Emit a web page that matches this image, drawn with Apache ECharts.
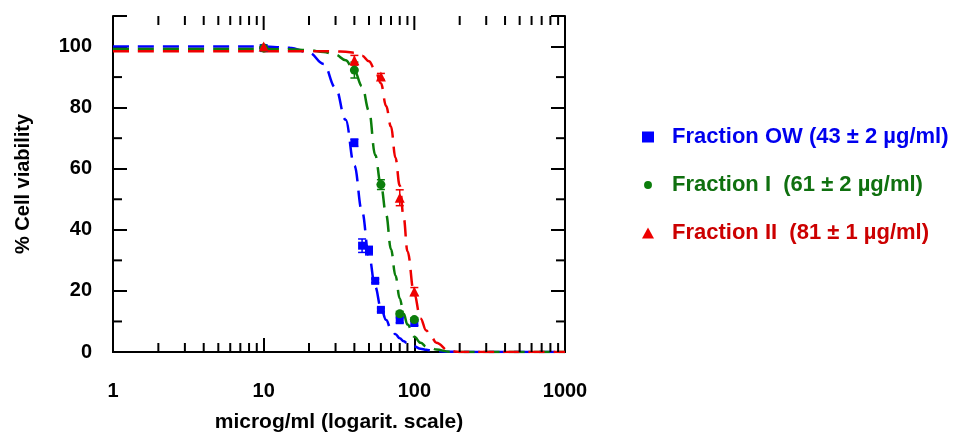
<!DOCTYPE html>
<html>
<head>
<meta charset="utf-8">
<script src="https://cdn.jsdelivr.net/npm/echarts@6/dist/echarts.min.js"></script>
<style>
  html, body { margin: 0; padding: 0; background: #fff; }
  #chart { width: 955px; height: 432px; }
</style>
</head>
<body>
<div id="chart"></div>
<script>
// 数据
var seriesNames = ['Fraction OW (43 ± 2 µg/ml)', 'Fraction I  (61 ± 2 µg/ml)', 'Fraction II  (81 ± 1 µg/ml)'];
var xTickLabels = [1, 10, 100, 1000];
var xMajorTicks = [10, 100];
var xMinorTicks = [2, 3, 4, 5, 6, 7, 8, 9, 20, 30, 40, 50, 60, 70, 80, 90, 200, 300, 400, 500, 600, 700, 800, 900];
var yMinorTicks = [10, 30, 50, 70, 90];

// measured points [conc, viability, error]
var pointsOW = [[10, 99.5, 0], [40, 68.5, 1.2], [45, 34.8, 2.2], [50, 33.2, 1.4], [55, 23.3, 0.6], [60, 13.8, 0.6], [80, 10.4, 0.8], [100, 9.5, 0.8]];
var pointsI = [[10, 99.5, 0], [40, 92.3, 2.6], [60, 54.8, 1.6], [80, 12.5, 0.8], [100, 10.6, 0.6]];
var pointsII = [[10, 100, 0], [40, 95.5, 1.6], [60, 90.2, 1.0], [80, 50.5, 2.6], [100, 19.8, 1.3]];

// fitted curves
var curveX = [1, 5, 10, 15, 20, 25, 30, 35, 40, 45, 50, 55, 60, 65, 70, 75, 80, 85, 90, 100, 110, 120, 130, 140, 170, 200, 300, 1000];
var curveOW = [100, 100, 100, 99.6, 98.0, 94.3, 86.5, 76, 61, 46, 31.5, 21.3, 14.5, 10.5, 7.5, 5.8, 4.5, 3.5, 2.8, 1.8, 1.1, 0.7, 0.5, 0.3, 0.1, 0, 0, 0];
var curveI = [99.2, 99.2, 99.2, 99.1, 98.8, 98.2, 97.3, 95.5, 92, 87, 79, 64.5, 54.7, 45, 33.6, 25, 17.5, 12.5, 9.0, 5.0, 3.0, 1.8, 1.2, 0.8, 0.1, 0, 0, 0];
var curveII = [98.5, 98.5, 98.5, 98.5, 98.5, 98.5, 98.4, 98.3, 98, 97, 95.2, 92.3, 88, 80.5, 73.8, 63.5, 54.5, 44, 33, 18.7, 11, 7, 4.8, 3, 0.3, 0, 0, 0];

var colorsMark = ['#0000ff', '#0b7d0b', '#ee0000'];
var colorsText = ['#0000ee', '#0f700f', '#cc0000'];
var symbols = ['rect', 'circle', 'triangle'];
var symbolSizes = [8, 9, 10];
// legend icons
var circleIcon = 'image://data:image/svg+xml;utf8,' + encodeURIComponent(
  '<svg xmlns="http://www.w3.org/2000/svg" width="12" height="12" viewBox="0 0 12 12"><circle cx="6" cy="6" r="4.3" fill="#0b7d0b"/></svg>');
var legendIcons = ['rect', circleIcon, 'triangle'];

var chart = echarts.init(document.getElementById('chart'));

function pair(xs, ys) {
  return xs.map(function (x, i) { return [x, ys[i]]; });
}

function errorItem(params, api) {
  var x = api.value(0);
  var lo = api.coord([x, api.value(1) - api.value(2)]);
  var hi = api.coord([x, api.value(1) + api.value(2)]);
  var c = api.visual('color');
  var st = { stroke: c, lineWidth: 1.5 };
  return {
    type: 'group',
    children: [
      { type: 'line', shape: { x1: lo[0], y1: lo[1], x2: hi[0], y2: hi[1] }, style: st },
      { type: 'line', shape: { x1: lo[0] - 4, y1: lo[1], x2: lo[0] + 4, y2: lo[1] }, style: st },
      { type: 'line', shape: { x1: hi[0] - 4, y1: hi[1], x2: hi[0] + 4, y2: hi[1] }, style: st }
    ]
  };
}

var curves = [curveOW, curveI, curveII];
var points = [pointsOW, pointsI, pointsII];
var series = [];

// 曲线
curves.forEach(function (c, i) {
  series.push({
    name: 'fit' + i,
    type: 'line',
    data: pair(curveX, c),
    smooth: 0.4,
    smoothMonotone: 'x',
    symbol: 'none',
    lineStyle: { color: colorsMark[i], width: 2.5, type: [16, 9] },
    z: 2,
    silent: true
  });
});

// 误差棒
points.forEach(function (p, i) {
  series.push({
    name: 'err' + i,
    type: 'custom',
    renderItem: errorItem,
    itemStyle: { color: colorsMark[i] },
    data: p.map(function (d) { return [d[0], d[1], d[2]]; }),
    encode: { x: 0, y: 1 },
    z: 3,
    silent: true
  });
});

// 数据点
points.forEach(function (p, i) {
  series.push({
    name: seriesNames[i],
    type: 'scatter',
    data: p.map(function (d) { return [d[0], d[1]]; }),
    symbol: symbols[i],
    symbolSize: symbolSizes[i],
    itemStyle: { color: colorsMark[i], opacity: 1 },
    z: 4
  });
});

// ticks on log axis (bottom minor + top major/minor)
function xTickSeries(name, values, lenBottom, lenTop) {
  return {
    name: name,
    type: 'custom',
    silent: true,
    renderItem: function (params, api) {
      var v = api.value(0);
      var b = api.coord([v, 0]);
      var t = api.coord([v, 110]);
      var st = { stroke: '#000', lineWidth: 2 };
      var kids = [{ type: 'line', shape: { x1: t[0], y1: t[1], x2: t[0], y2: t[1] + lenTop }, style: st }];
      if (lenBottom > 0) {
        kids.push({ type: 'line', shape: { x1: b[0], y1: b[1], x2: b[0], y2: b[1] - lenBottom }, style: st });
      }
      return { type: 'group', children: kids };
    },
    data: values.map(function (v) { return [v, 0]; }),
    encode: { x: 0, y: 1 },
    z: 5
  };
}
series.push(xTickSeries('minorX', xMinorTicks, 9, 9));
series.push(xTickSeries('majorX', xMajorTicks, 0, 14));

// minor ticks on y (left + right)
series.push({
  name: 'minorY',
  type: 'custom',
  silent: true,
  renderItem: function (params, api) {
    var v = api.value(1);
    var l = api.coord([1, v]);
    var r = api.coord([1000, v]);
    var st = { stroke: '#000', lineWidth: 2 };
    return {
      type: 'group',
      children: [
        { type: 'line', shape: { x1: l[0], y1: l[1], x2: l[0] + 9, y2: l[1] }, style: st },
        { type: 'line', shape: { x1: r[0], y1: r[1], x2: r[0] - 9, y2: r[1] }, style: st }
      ]
    };
  },
  data: yMinorTicks.map(function (v) { return [1, v]; }),
  encode: { x: 0, y: 1 },
  z: 5
});

var axisLineStyle = { lineStyle: { color: '#000', width: 2 } };
var tickStyle = { show: true, inside: true, length: 14, lineStyle: { color: '#000', width: 2 } };
var fontBold = { fontFamily: 'Liberation Sans', fontWeight: 'bold', color: '#000' };

var option = {
  animation: false,
  backgroundColor: '#fff',
  grid: { left: 113, right: 390, top: 16, bottom: 80, containLabel: false, outerBoundsMode: 'none' },
  legend: {
    orient: 'vertical',
    left: 637,
    top: 121,
    itemWidth: 12,
    itemHeight: 11,
    itemGap: 26,
    data: seriesNames.map(function (n, i) {
      return { name: n, icon: legendIcons[i], textStyle: { color: colorsText[i] } };
    }),
    textStyle: { fontFamily: 'Liberation Sans', fontWeight: 'bold', fontSize: 22, padding: [0, 0, 0, 13] },
    selectedMode: false
  },
  xAxis: [{
    type: 'log',
    logBase: 10,
    min: 1,
    max: 1000,
    position: 'bottom',
    name: 'microg/ml (logarit. scale)',
    nameLocation: 'middle',
    nameGap: 60,
    nameTextStyle: Object.assign({ fontSize: 21 }, fontBold),
    axisLine: axisLineStyle,
    axisTick: tickStyle,
    splitLine: { show: false },
    axisLabel: Object.assign({
      fontSize: 20,
      margin: 29,
      formatter: function (v) { return String(Math.round(v)); }
    }, fontBold)
  }, {
    type: 'log',
    logBase: 10,
    min: 1,
    max: 1000,
    position: 'top',
    axisLine: axisLineStyle,
    axisTick: { show: false },
    splitLine: { show: false },
    axisLabel: { show: false }
  }],
  yAxis: [{
    type: 'value',
    min: 0,
    max: 110,
    interval: 20,
    position: 'left',
    name: '% Cell viability',
    nameLocation: 'middle',
    nameGap: 80,
    nameTextStyle: Object.assign({ fontSize: 20 }, fontBold),
    axisLine: { show: true, lineStyle: { color: '#000', width: 2 } },
    axisTick: tickStyle,
    splitLine: { show: false },
    axisLabel: Object.assign({
      fontSize: 20,
      margin: 21,
      formatter: function (v) { return v > 100 ? '' : String(v); }
    }, fontBold)
  }, {
    type: 'value',
    min: 0,
    max: 110,
    interval: 20,
    position: 'right',
    axisLine: { show: true, lineStyle: { color: '#000', width: 2 } },
    axisTick: tickStyle,
    splitLine: { show: false },
    axisLabel: { show: false }
  }],
  series: series
};

chart.setOption(option);
</script>
</body>
</html>
